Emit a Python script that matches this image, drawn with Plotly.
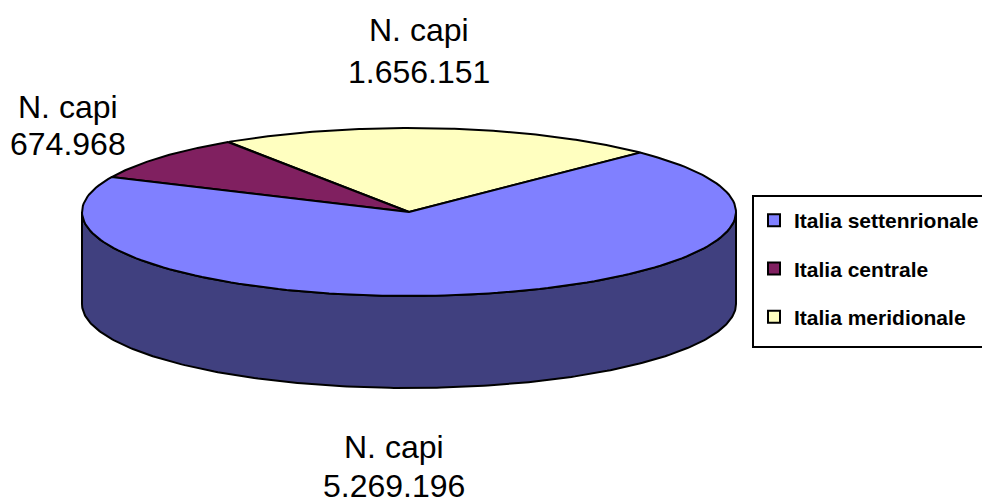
import numpy as np
import plotly.graph_objects as go

categories = ["Italia settenrionale", "Italia centrale", "Italia meridionale"]
values = [5269196, 674968, 1656151]
value_labels = ["5.269.196", "674.968", "1.656.151"]
series_name = "N. capi"
top_colors = ["#8080FF", "#802060", "#FFFFC0"]
side_color = "#40407F"
start_angle = 45.0
order = [2, 1, 0]

W, H = 982, 499
cx, cy, rx, ry, depth = 409.0, 212.0, 327.0, 84.0, 92.0


def rim(a0, a1, n=160):
    t = np.radians(np.linspace(a0, a1, n))
    return cx + rx * np.cos(t), cy - ry * np.sin(t)


fig = go.Figure()
total = sum(values)

xb, yb = rim(180, 360, 240)
xw = np.concatenate([xb, xb[::-1]])
yw = np.concatenate([yb, (yb + depth)[::-1]])
fig.add_trace(go.Scatter(x=np.append(xw, xw[0]), y=np.append(yw, yw[0]), mode="lines", fill="toself",
                         fillcolor=side_color, line=dict(color="black", width=2),
                         showlegend=False, hoverinfo="skip"))

a = start_angle
for i in order:
    sweep = 360.0 * values[i] / total
    xr, yr = rim(a, a + sweep)
    xs = np.concatenate([[cx], xr, [cx]])
    ys = np.concatenate([[cy], yr, [cy]])
    fig.add_trace(go.Scatter(x=xs, y=ys, mode="lines", fill="toself", fillcolor=top_colors[i],
                             line=dict(color="black", width=2), showlegend=False,
                             hoverinfo="text", text=f"{categories[i]}: {value_labels[i]}"))
    a += sweep

for i, c in enumerate(categories):
    fig.add_trace(go.Scatter(x=[None], y=[None], mode="markers", name=c, legendgroup=c,
                             marker=dict(symbol="square", size=11, color=top_colors[i],
                                         line=dict(color="black", width=1.5))))

# label centre x, first-line y, second-line y
label_pos = [(394, 447, 486), (68, 107, 144), (419, 30, 72)]
for i, (lx, y1, y2) in enumerate(label_pos):
    for ly, txt in ((y1, series_name), (y2, value_labels[i])):
        fig.add_annotation(x=lx, y=ly, text=txt, showarrow=False,
                           font=dict(family="Liberation Sans, Arial", size=32, color="black"),
                           align="center", xanchor="center", yanchor="middle")

# legend frame runs off the right edge of the page
fig.add_shape(type="rect", x0=753, x1=W + 10, y0=196, y1=347, xref="x", yref="y",
              line=dict(color="black", width=2), fillcolor="white", layer="above")

fig.update_layout(
    width=W, height=H, autosize=False, margin=dict(l=0, r=0, t=0, b=0, autoexpand=False),
    plot_bgcolor="white", paper_bgcolor="white",
    xaxis=dict(range=[0, W], visible=False, fixedrange=True),
    yaxis=dict(range=[H, 0], visible=False, fixedrange=True),
    legend=dict(x=754 / W, y=1 - 200 / H, xanchor="left", yanchor="top",
                bgcolor="rgba(0,0,0,0)", borderwidth=0,
                font=dict(family="Liberation Sans, Arial", size=21, color="black", weight="bold"),
                tracegroupgap=18, itemsizing="constant", traceorder="grouped"),
)
fig.write_html("out.html", config={"displayModeBar": False},
               post_script="document.body.style.margin='0';document.body.style.overflow='hidden';")
